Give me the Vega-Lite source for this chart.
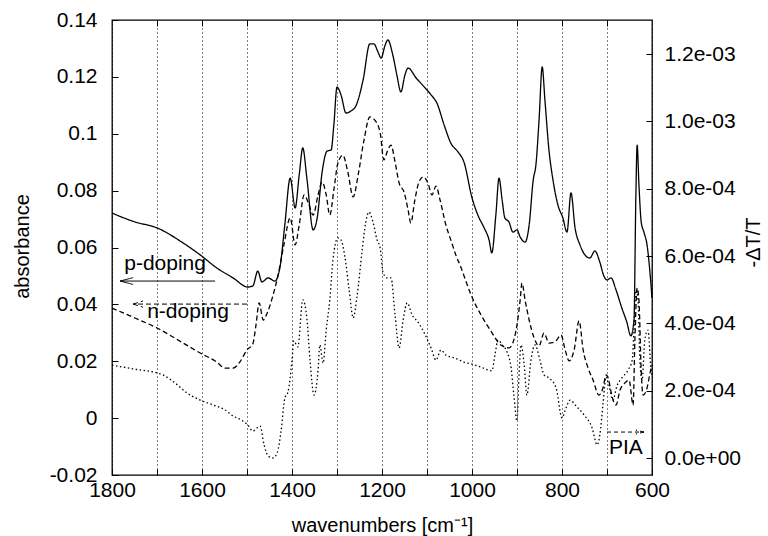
{
  "$schema": "https://vega.github.io/schema/vega-lite/v6.json",
  "width": 540,
  "height": 455,
  "autosize": {"type": "none"},
  "padding": {"left": 112, "top": 20, "right": 116, "bottom": 61},
  "background": "white",
  "config": {
    "font": "Liberation Sans",
    "view": {"stroke": "black", "strokeWidth": 1.3},
    "axis": {
      "domain": false,
      "labelFont": "Liberation Sans",
      "titleFont": "Liberation Sans",
      "labelFontSize": 21,
      "titleFontSize": 20,
      "labelColor": "black",
      "titleColor": "black",
      "titleFontWeight": "normal",
      "tickColor": "black",
      "tickSize": -6,
      "tickWidth": 1,
      "labelFlush": false
    }
  },
  "datasets": {
    "abs": [
      {"w": 1800, "a": 0.0721, "s": "p-doping"},
      {"w": 1749, "a": 0.0690, "s": "p-doping"},
      {"w": 1700, "a": 0.0669, "s": "p-doping"},
      {"w": 1642, "a": 0.0616, "s": "p-doping"},
      {"w": 1604, "a": 0.0574, "s": "p-doping"},
      {"w": 1567, "a": 0.0528, "s": "p-doping"},
      {"w": 1531, "a": 0.0493, "s": "p-doping"},
      {"w": 1498, "a": 0.0461, "s": "p-doping"},
      {"w": 1487, "a": 0.0465, "s": "p-doping"},
      {"w": 1476, "a": 0.0517, "s": "p-doping"},
      {"w": 1467, "a": 0.0479, "s": "p-doping"},
      {"w": 1453, "a": 0.0493, "s": "p-doping"},
      {"w": 1438, "a": 0.0482, "s": "p-doping"},
      {"w": 1427, "a": 0.0528, "s": "p-doping"},
      {"w": 1416, "a": 0.0679, "s": "p-doping"},
      {"w": 1404, "a": 0.0844, "s": "p-doping"},
      {"w": 1393, "a": 0.0739, "s": "p-doping"},
      {"w": 1384, "a": 0.0855, "s": "p-doping"},
      {"w": 1376, "a": 0.0950, "s": "p-doping"},
      {"w": 1367, "a": 0.0844, "s": "p-doping"},
      {"w": 1353, "a": 0.0662, "s": "p-doping"},
      {"w": 1344, "a": 0.0704, "s": "p-doping"},
      {"w": 1333, "a": 0.0866, "s": "p-doping"},
      {"w": 1322, "a": 0.0939, "s": "p-doping"},
      {"w": 1313, "a": 0.0943, "s": "p-doping"},
      {"w": 1307, "a": 0.1031, "s": "p-doping"},
      {"w": 1300, "a": 0.1164, "s": "p-doping"},
      {"w": 1291, "a": 0.1136, "s": "p-doping"},
      {"w": 1280, "a": 0.1073, "s": "p-doping"},
      {"w": 1269, "a": 0.1080, "s": "p-doping"},
      {"w": 1258, "a": 0.1098, "s": "p-doping"},
      {"w": 1242, "a": 0.1189, "s": "p-doping"},
      {"w": 1227, "a": 0.1316, "s": "p-doping"},
      {"w": 1218, "a": 0.1316, "s": "p-doping"},
      {"w": 1209, "a": 0.1288, "s": "p-doping"},
      {"w": 1202, "a": 0.1266, "s": "p-doping"},
      {"w": 1193, "a": 0.1312, "s": "p-doping"},
      {"w": 1187, "a": 0.1330, "s": "p-doping"},
      {"w": 1176, "a": 0.1277, "s": "p-doping"},
      {"w": 1167, "a": 0.1207, "s": "p-doping"},
      {"w": 1158, "a": 0.1147, "s": "p-doping"},
      {"w": 1149, "a": 0.1207, "s": "p-doping"},
      {"w": 1142, "a": 0.1231, "s": "p-doping"},
      {"w": 1124, "a": 0.1196, "s": "p-doping"},
      {"w": 1104, "a": 0.1161, "s": "p-doping"},
      {"w": 1089, "a": 0.1133, "s": "p-doping"},
      {"w": 1078, "a": 0.1108, "s": "p-doping"},
      {"w": 1062, "a": 0.1031, "s": "p-doping"},
      {"w": 1047, "a": 0.0967, "s": "p-doping"},
      {"w": 1031, "a": 0.0936, "s": "p-doping"},
      {"w": 1018, "a": 0.0901, "s": "p-doping"},
      {"w": 1000, "a": 0.0775, "s": "p-doping"},
      {"w": 987, "a": 0.0714, "s": "p-doping"},
      {"w": 973, "a": 0.0669, "s": "p-doping"},
      {"w": 962, "a": 0.0626, "s": "p-doping"},
      {"w": 956, "a": 0.0581, "s": "p-doping"},
      {"w": 947, "a": 0.0714, "s": "p-doping"},
      {"w": 940, "a": 0.0844, "s": "p-doping"},
      {"w": 933, "a": 0.0767, "s": "p-doping"},
      {"w": 927, "a": 0.0704, "s": "p-doping"},
      {"w": 918, "a": 0.0690, "s": "p-doping"},
      {"w": 909, "a": 0.0654, "s": "p-doping"},
      {"w": 900, "a": 0.0662, "s": "p-doping"},
      {"w": 893, "a": 0.0637, "s": "p-doping"},
      {"w": 882, "a": 0.0619, "s": "p-doping"},
      {"w": 873, "a": 0.0679, "s": "p-doping"},
      {"w": 864, "a": 0.0837, "s": "p-doping"},
      {"w": 858, "a": 0.0890, "s": "p-doping"},
      {"w": 851, "a": 0.1048, "s": "p-doping"},
      {"w": 844, "a": 0.1235, "s": "p-doping"},
      {"w": 838, "a": 0.1119, "s": "p-doping"},
      {"w": 829, "a": 0.0943, "s": "p-doping"},
      {"w": 820, "a": 0.0837, "s": "p-doping"},
      {"w": 809, "a": 0.0749, "s": "p-doping"},
      {"w": 798, "a": 0.0704, "s": "p-doping"},
      {"w": 789, "a": 0.0654, "s": "p-doping"},
      {"w": 780, "a": 0.0792, "s": "p-doping"},
      {"w": 771, "a": 0.0669, "s": "p-doping"},
      {"w": 760, "a": 0.0609, "s": "p-doping"},
      {"w": 749, "a": 0.0574, "s": "p-doping"},
      {"w": 738, "a": 0.0563, "s": "p-doping"},
      {"w": 727, "a": 0.0588, "s": "p-doping"},
      {"w": 716, "a": 0.0549, "s": "p-doping"},
      {"w": 707, "a": 0.0500, "s": "p-doping"},
      {"w": 700, "a": 0.0486, "s": "p-doping"},
      {"w": 691, "a": 0.0493, "s": "p-doping"},
      {"w": 680, "a": 0.0451, "s": "p-doping"},
      {"w": 667, "a": 0.0387, "s": "p-doping"},
      {"w": 656, "a": 0.0338, "s": "p-doping"},
      {"w": 647, "a": 0.0289, "s": "p-doping"},
      {"w": 640, "a": 0.0345, "s": "p-doping"},
      {"w": 636, "a": 0.0767, "s": "p-doping"},
      {"w": 633, "a": 0.0960, "s": "p-doping"},
      {"w": 629, "a": 0.0820, "s": "p-doping"},
      {"w": 624, "a": 0.0690, "s": "p-doping"},
      {"w": 618, "a": 0.0654, "s": "p-doping"},
      {"w": 611, "a": 0.0609, "s": "p-doping"},
      {"w": 604, "a": 0.0503, "s": "p-doping"},
      {"w": 600, "a": 0.0422, "s": "p-doping"},

      {"w": 1800, "a": 0.0387, "s": "n-doping"},
      {"w": 1749, "a": 0.0352, "s": "n-doping"},
      {"w": 1700, "a": 0.0317, "s": "n-doping"},
      {"w": 1642, "a": 0.0264, "s": "n-doping"},
      {"w": 1604, "a": 0.0229, "s": "n-doping"},
      {"w": 1567, "a": 0.0197, "s": "n-doping"},
      {"w": 1549, "a": 0.0176, "s": "n-doping"},
      {"w": 1531, "a": 0.0176, "s": "n-doping"},
      {"w": 1516, "a": 0.0197, "s": "n-doping"},
      {"w": 1500, "a": 0.0240, "s": "n-doping"},
      {"w": 1487, "a": 0.0261, "s": "n-doping"},
      {"w": 1480, "a": 0.0328, "s": "n-doping"},
      {"w": 1473, "a": 0.0405, "s": "n-doping"},
      {"w": 1464, "a": 0.0345, "s": "n-doping"},
      {"w": 1456, "a": 0.0366, "s": "n-doping"},
      {"w": 1444, "a": 0.0422, "s": "n-doping"},
      {"w": 1431, "a": 0.0503, "s": "n-doping"},
      {"w": 1418, "a": 0.0609, "s": "n-doping"},
      {"w": 1404, "a": 0.0704, "s": "n-doping"},
      {"w": 1393, "a": 0.0609, "s": "n-doping"},
      {"w": 1384, "a": 0.0679, "s": "n-doping"},
      {"w": 1373, "a": 0.0785, "s": "n-doping"},
      {"w": 1362, "a": 0.0749, "s": "n-doping"},
      {"w": 1353, "a": 0.0714, "s": "n-doping"},
      {"w": 1342, "a": 0.0785, "s": "n-doping"},
      {"w": 1333, "a": 0.0830, "s": "n-doping"},
      {"w": 1324, "a": 0.0785, "s": "n-doping"},
      {"w": 1316, "a": 0.0714, "s": "n-doping"},
      {"w": 1307, "a": 0.0802, "s": "n-doping"},
      {"w": 1298, "a": 0.0897, "s": "n-doping"},
      {"w": 1287, "a": 0.0925, "s": "n-doping"},
      {"w": 1276, "a": 0.0866, "s": "n-doping"},
      {"w": 1264, "a": 0.0778, "s": "n-doping"},
      {"w": 1253, "a": 0.0855, "s": "n-doping"},
      {"w": 1240, "a": 0.0978, "s": "n-doping"},
      {"w": 1227, "a": 0.1059, "s": "n-doping"},
      {"w": 1216, "a": 0.1048, "s": "n-doping"},
      {"w": 1204, "a": 0.1003, "s": "n-doping"},
      {"w": 1196, "a": 0.0908, "s": "n-doping"},
      {"w": 1187, "a": 0.0943, "s": "n-doping"},
      {"w": 1180, "a": 0.0960, "s": "n-doping"},
      {"w": 1171, "a": 0.0901, "s": "n-doping"},
      {"w": 1162, "a": 0.0827, "s": "n-doping"},
      {"w": 1151, "a": 0.0795, "s": "n-doping"},
      {"w": 1142, "a": 0.0732, "s": "n-doping"},
      {"w": 1136, "a": 0.0686, "s": "n-doping"},
      {"w": 1127, "a": 0.0767, "s": "n-doping"},
      {"w": 1118, "a": 0.0830, "s": "n-doping"},
      {"w": 1109, "a": 0.0848, "s": "n-doping"},
      {"w": 1098, "a": 0.0827, "s": "n-doping"},
      {"w": 1089, "a": 0.0785, "s": "n-doping"},
      {"w": 1080, "a": 0.0816, "s": "n-doping"},
      {"w": 1071, "a": 0.0767, "s": "n-doping"},
      {"w": 1058, "a": 0.0679, "s": "n-doping"},
      {"w": 1047, "a": 0.0626, "s": "n-doping"},
      {"w": 1036, "a": 0.0574, "s": "n-doping"},
      {"w": 1024, "a": 0.0528, "s": "n-doping"},
      {"w": 1013, "a": 0.0479, "s": "n-doping"},
      {"w": 1002, "a": 0.0433, "s": "n-doping"},
      {"w": 980, "a": 0.0363, "s": "n-doping"},
      {"w": 958, "a": 0.0306, "s": "n-doping"},
      {"w": 936, "a": 0.0257, "s": "n-doping"},
      {"w": 918, "a": 0.0247, "s": "n-doping"},
      {"w": 907, "a": 0.0275, "s": "n-doping"},
      {"w": 900, "a": 0.0328, "s": "n-doping"},
      {"w": 893, "a": 0.0415, "s": "n-doping"},
      {"w": 889, "a": 0.0475, "s": "n-doping"},
      {"w": 882, "a": 0.0415, "s": "n-doping"},
      {"w": 873, "a": 0.0345, "s": "n-doping"},
      {"w": 862, "a": 0.0282, "s": "n-doping"},
      {"w": 851, "a": 0.0254, "s": "n-doping"},
      {"w": 840, "a": 0.0299, "s": "n-doping"},
      {"w": 829, "a": 0.0264, "s": "n-doping"},
      {"w": 816, "a": 0.0268, "s": "n-doping"},
      {"w": 802, "a": 0.0292, "s": "n-doping"},
      {"w": 793, "a": 0.0240, "s": "n-doping"},
      {"w": 784, "a": 0.0201, "s": "n-doping"},
      {"w": 773, "a": 0.0240, "s": "n-doping"},
      {"w": 762, "a": 0.0342, "s": "n-doping"},
      {"w": 753, "a": 0.0240, "s": "n-doping"},
      {"w": 742, "a": 0.0176, "s": "n-doping"},
      {"w": 731, "a": 0.0134, "s": "n-doping"},
      {"w": 718, "a": 0.0081, "s": "n-doping"},
      {"w": 709, "a": 0.0106, "s": "n-doping"},
      {"w": 702, "a": 0.0152, "s": "n-doping"},
      {"w": 696, "a": 0.0134, "s": "n-doping"},
      {"w": 691, "a": 0.0092, "s": "n-doping"},
      {"w": 680, "a": 0.0046, "s": "n-doping"},
      {"w": 671, "a": 0.0099, "s": "n-doping"},
      {"w": 660, "a": 0.0124, "s": "n-doping"},
      {"w": 651, "a": 0.0134, "s": "n-doping"},
      {"w": 642, "a": 0.0046, "s": "n-doping"},
      {"w": 638, "a": 0.0275, "s": "n-doping"},
      {"w": 633, "a": 0.0458, "s": "n-doping"},
      {"w": 629, "a": 0.0415, "s": "n-doping"},
      {"w": 624, "a": 0.0169, "s": "n-doping"},
      {"w": 620, "a": 0.0081, "s": "n-doping"},
      {"w": 611, "a": 0.0106, "s": "n-doping"},
      {"w": 604, "a": 0.0162, "s": "n-doping"},
      {"w": 600, "a": 0.0187, "s": "n-doping"}
    ],
    "pia": [
      {"w": 1800, "t": 0.000276},
      {"w": 1749, "t": 0.000264},
      {"w": 1700, "t": 0.000253},
      {"w": 1687, "t": 0.000247},
      {"w": 1660, "t": 0.000223},
      {"w": 1633, "t": 0.000193},
      {"w": 1604, "t": 0.000172},
      {"w": 1576, "t": 0.000158},
      {"w": 1549, "t": 0.000143},
      {"w": 1531, "t": 0.000125},
      {"w": 1513, "t": 0.000113},
      {"w": 1498, "t": 0.000098},
      {"w": 1487, "t": 0.000080},
      {"w": 1478, "t": 0.000089},
      {"w": 1471, "t": 0.000095},
      {"w": 1462, "t": 0.000039},
      {"w": 1453, "t": 0.000006},
      {"w": 1442, "t": 0.000000},
      {"w": 1433, "t": 0.000015},
      {"w": 1424, "t": 0.000083},
      {"w": 1416, "t": 0.000178},
      {"w": 1409, "t": 0.000196},
      {"w": 1400, "t": 0.000291},
      {"w": 1396, "t": 0.000348},
      {"w": 1387, "t": 0.000330},
      {"w": 1376, "t": 0.000470},
      {"w": 1367, "t": 0.000416},
      {"w": 1360, "t": 0.000291},
      {"w": 1351, "t": 0.000187},
      {"w": 1342, "t": 0.000262},
      {"w": 1338, "t": 0.000336},
      {"w": 1331, "t": 0.000282},
      {"w": 1324, "t": 0.000380},
      {"w": 1316, "t": 0.000470},
      {"w": 1309, "t": 0.000588},
      {"w": 1298, "t": 0.000654},
      {"w": 1291, "t": 0.000648},
      {"w": 1282, "t": 0.000594},
      {"w": 1273, "t": 0.000500},
      {"w": 1264, "t": 0.000416},
      {"w": 1256, "t": 0.000475},
      {"w": 1244, "t": 0.000618},
      {"w": 1236, "t": 0.000701},
      {"w": 1229, "t": 0.000731},
      {"w": 1220, "t": 0.000701},
      {"w": 1211, "t": 0.000648},
      {"w": 1204, "t": 0.000624},
      {"w": 1198, "t": 0.000553},
      {"w": 1189, "t": 0.000535},
      {"w": 1180, "t": 0.000535},
      {"w": 1171, "t": 0.000425},
      {"w": 1162, "t": 0.000327},
      {"w": 1153, "t": 0.000410},
      {"w": 1144, "t": 0.000461},
      {"w": 1133, "t": 0.000425},
      {"w": 1120, "t": 0.000404},
      {"w": 1104, "t": 0.000366},
      {"w": 1091, "t": 0.000327},
      {"w": 1080, "t": 0.000291},
      {"w": 1069, "t": 0.000321},
      {"w": 1058, "t": 0.000306},
      {"w": 1038, "t": 0.000297},
      {"w": 1018, "t": 0.000285},
      {"w": 1000, "t": 0.000279},
      {"w": 980, "t": 0.000270},
      {"w": 956, "t": 0.000259},
      {"w": 949, "t": 0.000306},
      {"w": 942, "t": 0.000351},
      {"w": 933, "t": 0.000336},
      {"w": 922, "t": 0.000315},
      {"w": 913, "t": 0.000267},
      {"w": 907, "t": 0.000187},
      {"w": 900, "t": 0.000110},
      {"w": 896, "t": 0.000232},
      {"w": 891, "t": 0.000336},
      {"w": 884, "t": 0.000276},
      {"w": 878, "t": 0.000187},
      {"w": 869, "t": 0.000291},
      {"w": 860, "t": 0.000336},
      {"w": 849, "t": 0.000291},
      {"w": 840, "t": 0.000247},
      {"w": 829, "t": 0.000238},
      {"w": 813, "t": 0.000208},
      {"w": 800, "t": 0.000119},
      {"w": 791, "t": 0.000149},
      {"w": 782, "t": 0.000172},
      {"w": 769, "t": 0.000155},
      {"w": 751, "t": 0.000128},
      {"w": 733, "t": 0.000089},
      {"w": 722, "t": 0.000039},
      {"w": 716, "t": 0.000068},
      {"w": 709, "t": 0.000158},
      {"w": 702, "t": 0.000241},
      {"w": 696, "t": 0.000217},
      {"w": 687, "t": 0.000172},
      {"w": 678, "t": 0.000214},
      {"w": 667, "t": 0.000238},
      {"w": 653, "t": 0.000262},
      {"w": 644, "t": 0.000291},
      {"w": 640, "t": 0.000380},
      {"w": 636, "t": 0.000499},
      {"w": 631, "t": 0.000470},
      {"w": 627, "t": 0.000291},
      {"w": 622, "t": 0.000232},
      {"w": 616, "t": 0.000351},
      {"w": 609, "t": 0.000380},
      {"w": 602, "t": 0.000262},
      {"w": 600, "t": 0.000247}
    ],
    "arrows": [
      {"w1": 1571, "w2": 1782, "a1": 0.0482, "a2": 0.0482, "s": "p-doping"},
      {"w1": 1782, "w2": 1753, "a1": 0.0482, "a2": 0.0494, "s": "p-doping"},
      {"w1": 1782, "w2": 1753, "a1": 0.0482, "a2": 0.0470, "s": "p-doping"},
      {"w1": 1500, "w2": 1753, "a1": 0.0401, "a2": 0.0401, "s": "n-doping"},
      {"w1": 1753, "w2": 1731, "a1": 0.0401, "a2": 0.0412, "s": "n-doping"},
      {"w1": 1753, "w2": 1731, "a1": 0.0401, "a2": 0.0390, "s": "n-doping"},
      {"w1": 700, "w2": 618, "a1": -0.0049, "a2": -0.0049, "s": "PIA"},
      {"w1": 618, "w2": 636, "a1": -0.0049, "a2": -0.0042, "s": "PIA"},
      {"w1": 618, "w2": 636, "a1": -0.0049, "a2": -0.0056, "s": "PIA"}
    ],
    "labels": [
      {"label": "p-doping", "w": 1682, "a": 0.0521},
      {"label": "n-doping", "w": 1631, "a": 0.0352},
      {"label": "PIA", "w": 658, "a": -0.0126}
    ]
  },
  "layer": [
    {
      "layer": [
        {
          "data": {"name": "abs"},
          "mark": {"type": "line", "strokeWidth": 1.3, "color": "black", "interpolate": "monotone"},
          "encoding": {
            "x": {
              "field": "w", "type": "quantitative",
              "scale": {"domain": [600, 1800], "reverse": true, "nice": false, "zero": false},
              "axis": {
                "orient": "bottom",
                "values": [1800, 1700, 1600, 1500, 1400, 1300, 1200, 1100, 1000, 900, 800, 700, 600],
                "labelExpr": "datum.value % 200 == 0 ? datum.label : ''",
                "format": "d",
                "labelFlush": false,
                "labelPadding": 10,
                "grid": true, "gridColor": "black", "gridDash": [1, 3], "gridWidth": 1, "gridOpacity": 1,
                "title": "wavenumbers [cm⁻¹]",
                "titleX": 270, "titleY": 56, "titleBaseline": "alphabetic", "titleAlign": "center"
              }
            },
            "y": {
              "field": "a", "type": "quantitative",
              "scale": {"domain": [-0.02, 0.14], "nice": false, "zero": false},
              "axis": {
                "orient": "left",
                "values": [-0.02, 0, 0.02, 0.04, 0.06, 0.08, 0.1, 0.12, 0.14],
                "labelExpr": "replace(format(datum.value, '.2~f'), '\u2212', '-')",
                "labelPadding": 21,
                "grid": false,
                "title": "absorbance",
                "titleAngle": -90, "titleX": -84, "titleY": 226, "titleAlign": "center", "titleBaseline": "alphabetic"
              }
            },
            "detail": {"field": "s"},
            "strokeDash": {
              "field": "s", "type": "nominal",
              "scale": {"domain": ["p-doping", "n-doping", "PIA"], "range": [[1, 0], [5, 3], [4, 3]]},
              "legend": null
            }
          }
        },
        {
          "data": {"name": "arrows"},
          "mark": {"type": "rule", "strokeWidth": 1, "color": "black"},
          "encoding": {
            "x": {"field": "w1", "type": "quantitative"},
            "x2": {"field": "w2"},
            "y": {"field": "a1", "type": "quantitative"},
            "y2": {"field": "a2"},
            "strokeDash": {"field": "s", "type": "nominal", "legend": null}
          }
        },
        {
          "data": {"name": "labels"},
          "mark": {"type": "text", "font": "Liberation Sans", "fontSize": 21, "color": "black", "align": "center", "baseline": "alphabetic"},
          "encoding": {
            "x": {"field": "w", "type": "quantitative"},
            "y": {"field": "a", "type": "quantitative"},
            "text": {"field": "label"}
          }
        }
      ]
    },
    {
      "data": {"name": "pia"},
      "mark": {"type": "line", "strokeWidth": 1.3, "color": "black", "strokeDash": [1.5, 2.5], "interpolate": "monotone"},
      "encoding": {
        "x": {
          "field": "w", "type": "quantitative",
          "axis": {
            "orient": "top",
            "values": [1700, 1600, 1500, 1400, 1300, 1200, 1100, 1000, 900, 800, 700],
            "labels": false, "grid": false, "title": null
          }
        },
        "y": {
          "field": "t", "type": "quantitative",
          "scale": {"domain": [-0.0000505, 0.0013016], "nice": false, "zero": false},
          "axis": {
            "orient": "right",
            "values": [0, 0.0002, 0.0004, 0.0006, 0.0008, 0.001, 0.0012],
            "labelExpr": "datum.value >= 0.00099 ? format(datum.value * 1000, '.1f') + 'e-03' : (datum.value > 0.00000001 ? format(datum.value * 10000, '.1f') + 'e-04' : '0.0e+00')",
            "labelPadding": 18,
            "grid": false,
            "title": "-ΔT/T",
            "titleAngle": -90, "titleX": 107, "titleY": 222, "titleAlign": "center", "titleBaseline": "alphabetic"
          }
        }
      }
    }
  ],
  "resolve": {"scale": {"y": "independent"}, "axis": {"y": "independent", "x": "independent"}}
}
